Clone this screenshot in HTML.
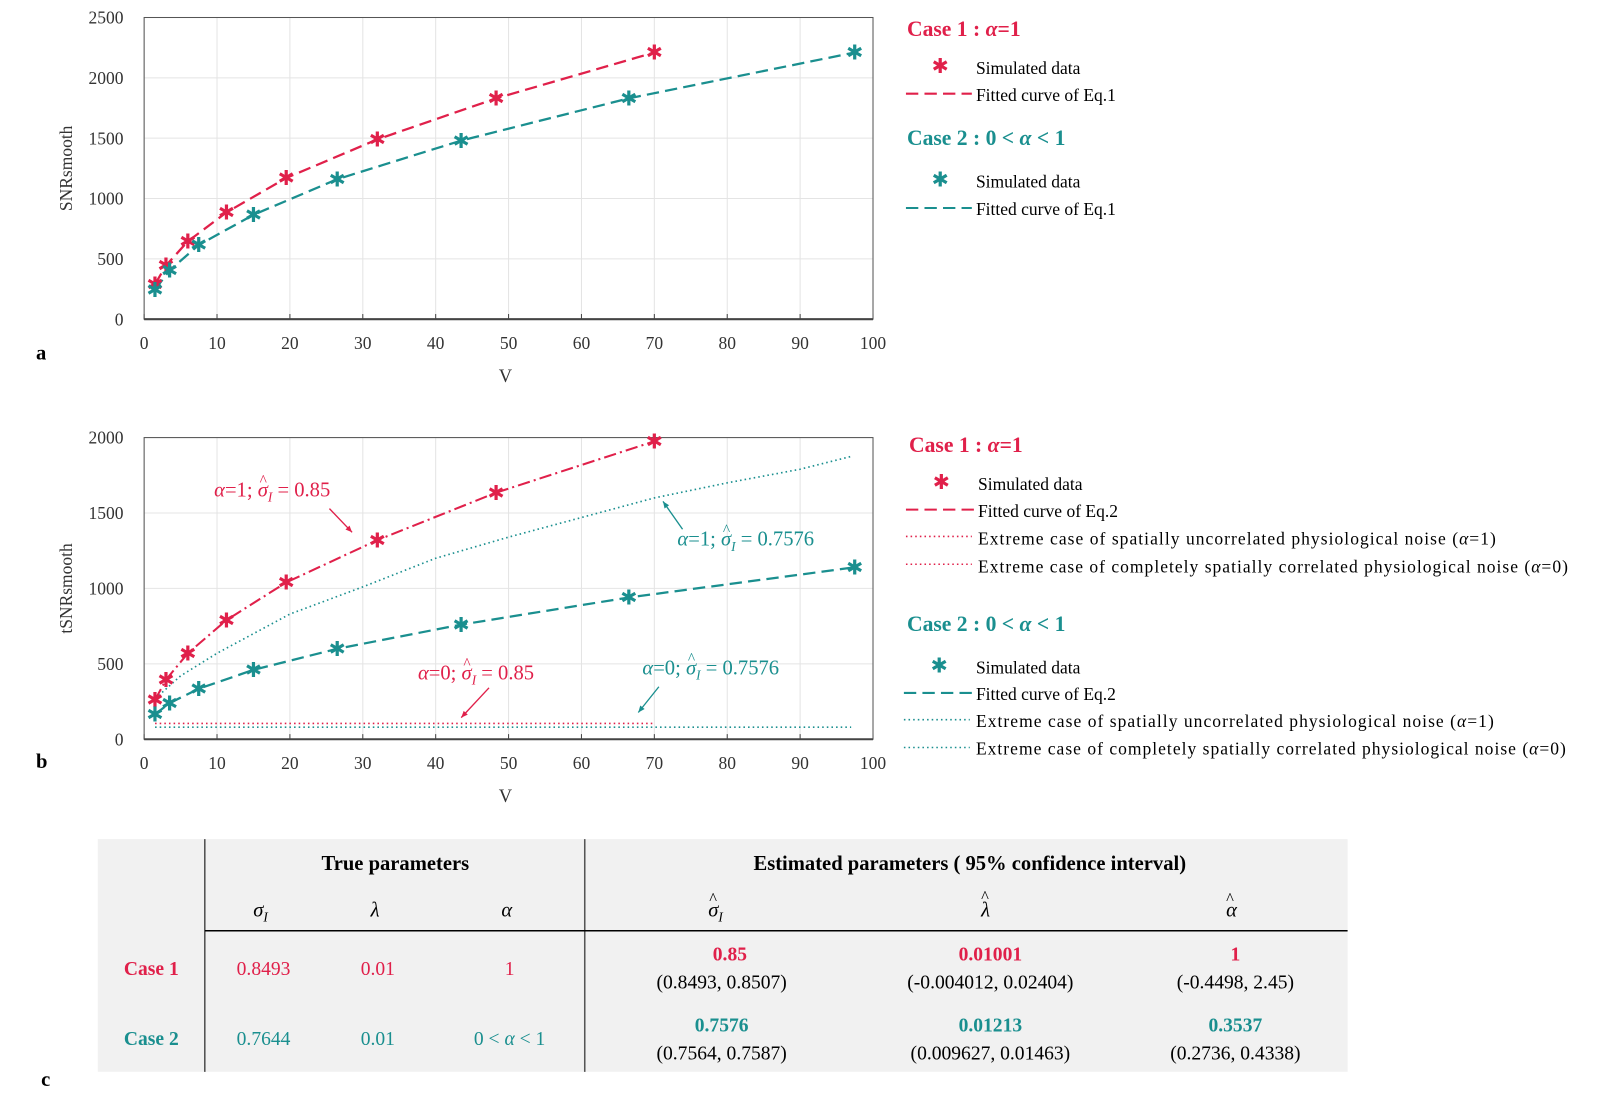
<!DOCTYPE html>
<html><head><meta charset="utf-8"><style>
html,body{margin:0;padding:0;background:#fff}
svg{display:block}
text{font-family:"Liberation Serif",serif}
</style></head><body>
<svg id="fig" width="1606" height="1113" viewBox="0 0 1560 1081" preserveAspectRatio="none" xmlns="http://www.w3.org/2000/svg">
<g id="gA"></g>
<g id="gB"></g>
<text x="35" y="349" font-size="20" font-weight="bold">a</text>
<text x="35" y="746" font-size="20" font-weight="bold">b</text>
<text x="40" y="1055" font-size="20" font-weight="bold">c</text>

<g font-size="17">
<text x="881" y="35" font-size="21" font-weight="bold" fill="#e0204a">Case 1 : <tspan font-style="italic">α</tspan>=1</text>
<text x="905" y="71" font-size="20" fill="#e0204a">✱</text><text x="948" y="72">Simulated data</text>
<line x1="880" y1="91" x2="944" y2="91" stroke="#e0204a" stroke-width="2" stroke-dasharray="12,6"/><text x="948" y="98">Fitted curve of Eq.1</text>
<text x="881" y="141" font-size="21" font-weight="bold" fill="#1a8f8f">Case 2 : 0 &lt; <tspan font-style="italic">α</tspan> &lt; 1</text>
<text x="905" y="181" font-size="20" fill="#1a8f8f">✱</text><text x="948" y="182">Simulated data</text>
<line x1="880" y1="202" x2="944" y2="202" stroke="#1a8f8f" stroke-width="2" stroke-dasharray="12,6"/><text x="948" y="209">Fitted curve of Eq.1</text>
</g>
<g font-size="17">
<text x="883" y="439" font-size="21" font-weight="bold" fill="#e0204a">Case 1 : <tspan font-style="italic">α</tspan>=1</text>
<text x="906" y="475" font-size="20" fill="#e0204a">✱</text><text x="950" y="476">Simulated data</text>
<line x1="880" y1="495" x2="946" y2="495" stroke="#e0204a" stroke-width="2" stroke-dasharray="12,6"/><text x="950" y="502">Fitted curve of Eq.2</text>
<line x1="880" y1="521" x2="944" y2="521" stroke="#e0204a" stroke-width="1.5" stroke-dasharray="1.5,3"/><text x="950" y="529" textLength="503">Extreme case of spatially uncorrelated physiological noise (<tspan font-style="italic">α</tspan>=1)</text>
<line x1="880" y1="548" x2="944" y2="548" stroke="#e0204a" stroke-width="1.5" stroke-dasharray="1.5,3"/><text x="950" y="556" textLength="573">Extreme case of completely spatially correlated physiological noise (<tspan font-style="italic">α</tspan>=0)</text>
<text x="881" y="613" font-size="21" font-weight="bold" fill="#1a8f8f">Case 2 : 0 &lt; <tspan font-style="italic">α</tspan> &lt; 1</text>
<text x="904" y="653" font-size="20" fill="#1a8f8f">✱</text><text x="948" y="654">Simulated data</text>
<line x1="878" y1="673" x2="944" y2="673" stroke="#1a8f8f" stroke-width="2" stroke-dasharray="12,6"/><text x="948" y="680">Fitted curve of Eq.2</text>
<line x1="878" y1="699" x2="942" y2="699" stroke="#1a8f8f" stroke-width="1.5" stroke-dasharray="1.5,3"/><text x="948" y="706" textLength="503">Extreme case of spatially uncorrelated physiological noise (<tspan font-style="italic">α</tspan>=1)</text>
<line x1="878" y1="726" x2="942" y2="726" stroke="#1a8f8f" stroke-width="1.5" stroke-dasharray="1.5,3"/><text x="948" y="733" textLength="573">Extreme case of completely spatially correlated physiological noise (<tspan font-style="italic">α</tspan>=0)</text>
</g>

<g>
<rect x="95" y="815" width="1214" height="226" fill="#f1f1f1"/>
<line x1="199" y1="815" x2="199" y2="1041" stroke="#000" stroke-width="1"/>
<line x1="568" y1="815" x2="568" y2="1041" stroke="#555" stroke-width="1.5"/>
<line x1="199" y1="904" x2="1309" y2="904" stroke="#000" stroke-width="1.5"/>
<g font-size="20" font-weight="bold" text-anchor="middle">
<text x="384" y="845">True parameters</text>
<text x="942" y="845">Estimated parameters ( 95% confidence interval)</text>
</g>
<g font-size="20" font-style="italic">
<text x="246" y="890">σ<tspan font-size="13" dy="5">I</tspan></text>
<text x="360" y="890">λ</text>
<text x="487" y="890">α</text>
<text x="688" y="890">σ<tspan font-size="13" dy="5">I</tspan></text>
<text x="689" y="878" font-size="16" font-style="normal">^</text>
<text x="953" y="890">λ</text>
<text x="953" y="876" font-size="16" font-style="normal">^</text>
<text x="1191" y="890">α</text>
<text x="1191" y="878" font-size="16" font-style="normal">^</text>
</g>
<g font-size="19" text-anchor="middle">
<text x="147" y="947" font-weight="bold" fill="#e0204a">Case 1</text>
<text x="256" y="947" fill="#e0204a">0.8493</text><text x="367" y="947" fill="#e0204a">0.01</text><text x="495" y="947" fill="#e0204a">1</text>
<text x="709" y="933" font-weight="bold" fill="#e0204a">0.85</text><text x="701" y="960">(0.8493, 0.8507)</text>
<text x="962" y="933" font-weight="bold" fill="#e0204a">0.01001</text><text x="962" y="960">(-0.004012, 0.02404)</text>
<text x="1200" y="933" font-weight="bold" fill="#e0204a">1</text><text x="1200" y="960">(-0.4498, 2.45)</text>
<text x="147" y="1015" font-weight="bold" fill="#1a8f8f">Case 2</text>
<text x="256" y="1015" fill="#1a8f8f">0.7644</text><text x="367" y="1015" fill="#1a8f8f">0.01</text><text x="495" y="1015" fill="#1a8f8f">0 &lt; <tspan font-style="italic">α</tspan> &lt; 1</text>
<text x="701" y="1002" font-weight="bold" fill="#1a8f8f">0.7576</text><text x="701" y="1029">(0.7564, 0.7587)</text>
<text x="962" y="1002" font-weight="bold" fill="#1a8f8f">0.01213</text><text x="962" y="1029">(0.009627, 0.01463)</text>
<text x="1200" y="1002" font-weight="bold" fill="#1a8f8f">0.3537</text><text x="1200" y="1029">(0.2736, 0.4338)</text>
</g>
</g>
</svg>
<script>
const RED = "#e0204a", TEAL = "#1a8f8f";
const xTicks = [0,10,20,30,40,50,60,70,80,90,100];
const yTicksA = [0,500,1000,1500,2000,2500];
const yTicksB = [0,500,1000,1500,2000];
const redVA = [1.5,3,6,11.3,19.5,32,48.3,70];
const redSA = [290,445,645,885,1170,1490,1830,2210];
const tealVA = [1.5,3.5,7.5,15,26.5,43.5,66.5,97.5];
const tealSA = [245,405,615,865,1160,1480,1830,2210];
const redVB = [1.5,3,6,11.3,19.5,32,48.3,70];
const redSB = [260,395,570,790,1040,1320,1635,1975];
const tealVB = [1.5,3.5,7.5,15,26.5,43.5,66.5,97.5];
const tealSB = [165,240,335,460,600,760,940,1140];
const tealUncorrV = [2,5,10,20,30,40,50,60,70,80,90,97];
const tealUncorrS = [290,420,570,830,1010,1200,1340,1470,1600,1700,1790,1875];
const redCorrV = [1.5,70];
const redCorrS = [105,105];
const tealCorrV = [1.5,97];
const tealCorrS = [80,80];

const NS = "http://www.w3.org/2000/svg";
function mk(p, tag, at){const e=document.createElementNS(NS,tag);for(const k in at)e.setAttribute(k,at[k]);p.appendChild(e);return e;}

function axes(g, top, bottom, yMax, yTicks, yTitle){
  const L=140,R=848;
  const sx=v=>L+(R-L)*v/100, sy=v=>bottom-(bottom-top)*v/yMax;
  for(const t of xTicks){
    const l=mk(g,"line",{x1:sx(t),x2:sx(t),y1:top,y2:bottom,stroke:"#e4e4e4","stroke-width":1});
    
    
    const k=mk(g,"line",{x1:sx(t),x2:sx(t),y1:bottom,y2:bottom-5,stroke:"#444"});
    
    
    const tx=mk(g,"text",{x:sx(t),y:bottom+29,"font-size":17,"text-anchor":"middle",fill:"#333"});
    tx.textContent=t;
    
    
  }
  for(const t of yTicks){
    const l=mk(g,"line",{x1:L,x2:R,y1:sy(t),y2:sy(t),stroke:"#e4e4e4"});
    
    
    const tx=mk(g,"text",{x:L-20,y:sy(t)+6,"font-size":17,"text-anchor":"end",fill:"#333"});
    tx.textContent=t;
    
    
  }
  const fr=mk(g,"rect",{x:L,y:top,width:R-L,height:bottom-top,fill:"none",stroke:"#555","stroke-width":1});
  
  
  mk(g,"line",{x1:L,x2:R,y1:bottom,y2:bottom,stroke:"#444","stroke-width":2});
  const xt=mk(g,"text",{x:491,y:bottom+61,"font-size":18,"text-anchor":"middle",fill:"#333"});
  xt.textContent="V";
  
  
  const yc=(top+bottom)/2;
  const yt=mk(g,"text",{x:70,y:yc,"font-size":17,"text-anchor":"middle",fill:"#333",transform:`rotate(-90 70 ${yc})`});
  yt.textContent=yTitle;
  
  
  return {sx,sy};
}
function line(g,s,V,S,color,dash,w,name){
  const p=mk(g,"polyline",{points:V.map((v,i)=>s.sx(v)+","+s.sy(S[i])).join(" "),fill:"none",stroke:color,"stroke-width":w,"stroke-dasharray":dash});
  
  
}
function stars(g,s,V,S,color,name){
  V.forEach((v,i)=>{
    const t=mk(g,"text",{x:s.sx(v),y:s.sy(S[i])+7,"font-size":20,"text-anchor":"middle",fill:color});
    t.textContent="✱";
    
    
  });
}
const gA=document.getElementById("gA");
const a=axes(gA,17,310,2500,yTicksA,"SNRsmooth");
line(gA,a,redVA,redSA,RED,"12,6",2.2,"red-fit-line");
line(gA,a,tealVA,tealSA,TEAL,"12,6",2.2,"teal-fit-line");
stars(gA,a,redVA,redSA,RED,"red-point");
stars(gA,a,tealVA,tealSA,TEAL,"teal-point");

const gB=document.getElementById("gB");
const b=axes(gB,425,718,2000,yTicksB,"tSNRsmooth");
line(gB,b,tealUncorrV,tealUncorrS,TEAL,"1.5,3",1.6,"teal-uncorrelated-line");
line(gB,b,redCorrV,redCorrS,RED,"1.5,3",1.6,"red-correlated-line");
line(gB,b,tealCorrV,tealCorrS,TEAL,"1.5,3",1.6,"teal-correlated-line");
line(gB,b,redVB,redSB,RED,"12,4,2,4",2,"red-fit-line");
line(gB,b,tealVB,tealSB,TEAL,"12,6",2.2,"teal-fit-line");
stars(gB,b,redVB,redSB,RED,"red-point");
stars(gB,b,tealVB,tealSB,TEAL,"teal-point");

const ann=[
 [208,482,"1","0.85",RED,[320,494,342,517]],
 [658,530,"1","0.7576",TEAL,[663,514,644,487]],
 [406,660,"0","0.85",RED,[475,668,448,697]],
 [624,655,"0","0.7576",TEAL,[640,667,620,692]]
];
ann.forEach(([x,y,av,val,c,ar])=>{
  const t=mk(gB,"text",{x:x,y:y,"font-size":20,fill:c});
  t.innerHTML=`<tspan font-style="italic">α</tspan>=${av};  <tspan font-style="italic">σ</tspan><tspan font-size="13" dy="5" font-style="italic">I</tspan><tspan dy="-5"> = ${val}</tspan>`;
  
  
  const s=t.getElementsByTagName('tspan')[1];
  const bb=s.getBBox();
  const h=mk(gB,"text",{x:bb.x+bb.width/2,y:bb.y+6,"font-size":15,"text-anchor":"middle",fill:c});
  h.textContent="^";
  
  
  const l=mk(gB,"line",{x1:ar[0],y1:ar[1],x2:ar[2],y2:ar[3],stroke:c,"stroke-width":1.3});
  
  
  const ang=Math.atan2(ar[3]-ar[1],ar[2]-ar[0]);
  const hx=ar[2],hy=ar[3],sz=7;
  mk(gB,"polygon",{points:`${hx},${hy} ${hx-sz*Math.cos(ang-0.4)},${hy-sz*Math.sin(ang-0.4)} ${hx-sz*Math.cos(ang+0.4)},${hy-sz*Math.sin(ang+0.4)}`,fill:c});
});
</script>
</body></html>
